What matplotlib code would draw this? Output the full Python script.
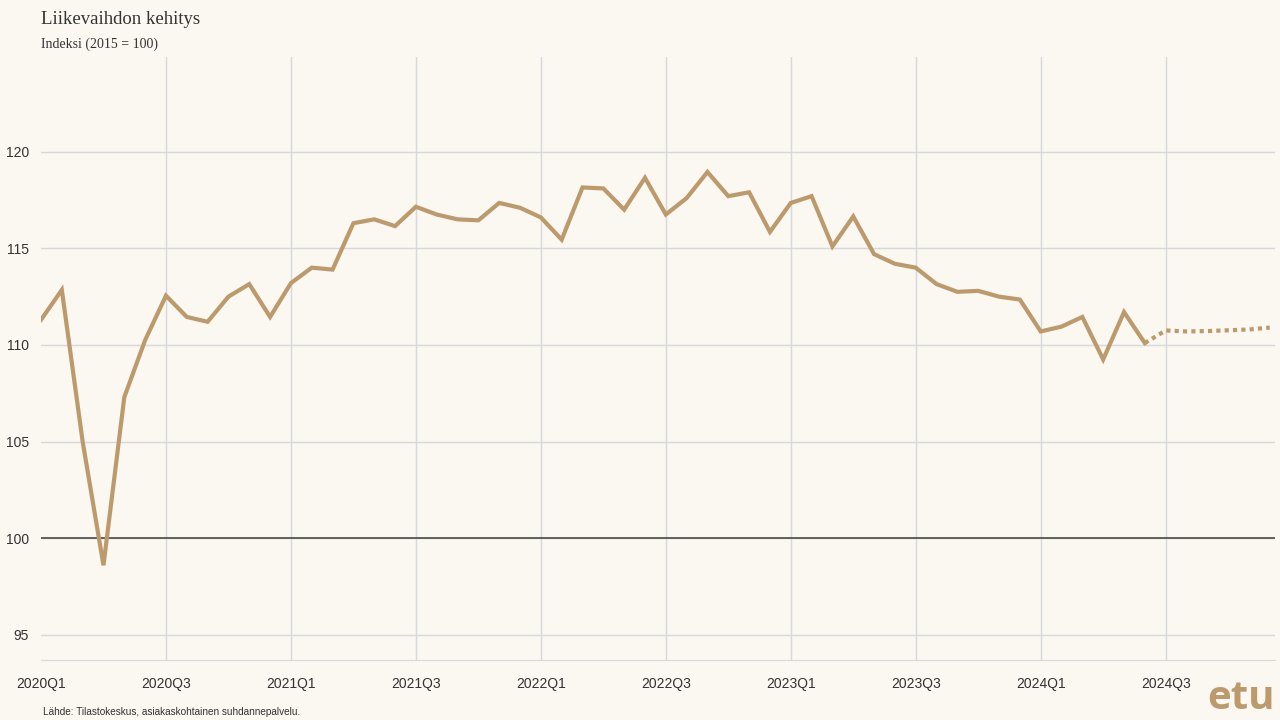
import matplotlib.pyplot as plt

# Monthly index values, Jan 2020 - Jun 2024 (actual)
actual = [111.3, 112.85, 105.0, 98.6, 107.3, 110.25, 112.55, 111.45, 111.2, 112.5,
          113.15, 111.45, 113.2, 114.0, 113.9, 116.3, 116.5, 116.15, 117.15, 116.75,
          116.5, 116.45, 117.35, 117.1, 116.6, 115.45, 118.15, 118.1, 117.0, 118.65,
          116.75, 117.6, 118.95, 117.7, 117.9, 115.85, 117.35, 117.7, 115.1, 116.65,
          114.7, 114.2, 114.0, 113.15, 112.75, 112.8, 112.5, 112.35, 110.7, 110.95,
          111.45, 109.25, 111.7, 110.1]
# Jun 2024 - Dec 2024 (estimate)
estimate = [110.1, 110.75, 110.7, 110.72, 110.76, 110.8, 110.9]
tick_labels = ['2020Q1', '2020Q3', '2021Q1', '2021Q3', '2022Q1', '2022Q3',
               '2023Q1', '2023Q3', '2024Q1', '2024Q3']
y_ticks = [95, 100, 105, 110, 115, 120]

bg = '#fbf7f1'
tan = '#bd9a6c'

plt.rcParams['font.family'] = ['Liberation Sans', 'DejaVu Sans']

fig = plt.figure(figsize=(12.8, 7.2), dpi=100, facecolor=bg)
ax = fig.add_axes([41 / 1280, 60 / 720, 1234 / 1280, 603 / 720], facecolor=bg)

x_act = range(len(actual))
x_est = range(len(actual) - 1, len(actual) - 1 + len(estimate))

ax.plot(x_act, actual, color=tan, lw=3, solid_joinstyle='miter', zorder=3)
ax.plot(x_est, estimate, color=tan, lw=3, linestyle=(0, (1, 1)), zorder=3)
ax.axhline(100, color='#555555', lw=1.3, zorder=2)

ax.set_xlim(0, 59.25)
ax.set_ylim(93.7, 124.9)
ax.set_xticks(range(0, 60, 6))
ax.set_xticklabels(tick_labels)
ax.set_yticks(y_ticks)
ax.grid(True, color='#d5d8dc', lw=1, zorder=1)
ax.xaxis.get_gridlines()[0].set_visible(False)
ax.tick_params(length=0, labelsize=10, labelcolor='#333333')
ax.tick_params(axis='x', pad=12)
ax.tick_params(axis='y', pad=8.5)
for s in ['top', 'right', 'left']:
    ax.spines[s].set_visible(False)
ax.spines['bottom'].set_color('#d5d8dc')

fig.text(41 / 1280, 1 - 20 / 720, 'Liikevaihdon kehitys', family='Liberation Serif',
         fontsize=13.5, color='#333333', va='center')
fig.text(41 / 1280, 1 - 44 / 720, 'Indeksi (2015 = 100)', family='Liberation Serif',
         fontsize=10, color='#333333', va='center')
fig.text(43 / 1280, 1 - 712 / 720, 'Lähde: Tilastokeskus, asiakaskohtainen suhdannepalvelu.',
         fontsize=7.2, color='#333333', va='center')
fig.text(1275 / 1280, 1 - 718 / 720, 'etu', fontsize=29, fontweight='bold',
         color=tan, ha='right', va='bottom', family='Open Sans')

fig.savefig('out.png', dpi=100, facecolor=bg)
